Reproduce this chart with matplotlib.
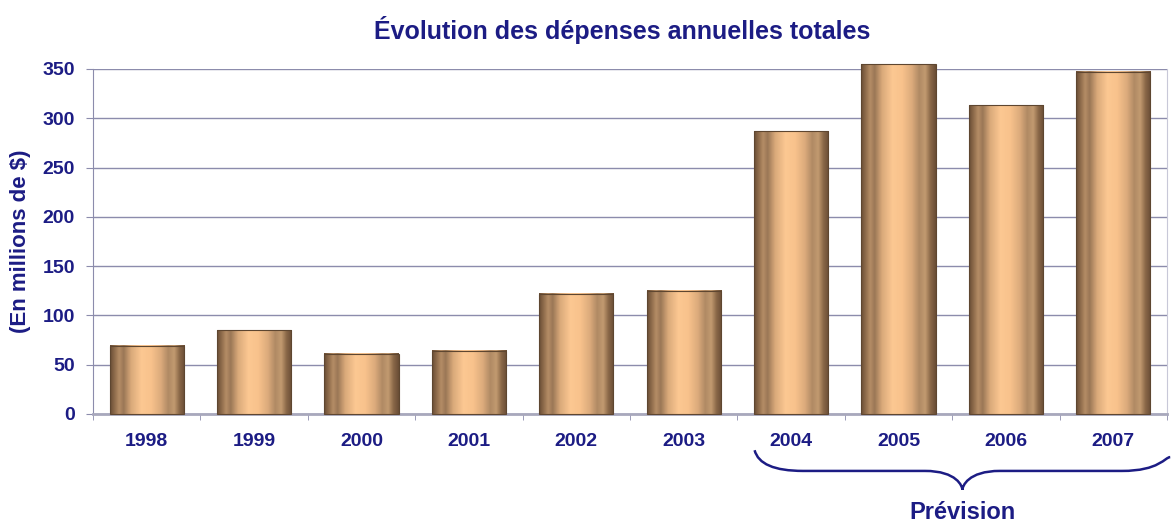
import numpy as np
import matplotlib
matplotlib.use('Agg')
import matplotlib.pyplot as plt
from matplotlib.colors import LinearSegmentedColormap
from matplotlib.path import Path
from matplotlib.patches import PathPatch
import matplotlib.transforms as mtransforms

plt.rcParams['font.family'] = ['Liberation Sans', 'DejaVu Sans']
plt.rcParams['font.weight'] = 'bold'

# data
years = ['1998', '1999', '2000', '2001', '2002', '2003', '2004', '2005', '2006', '2007']
depenses = [69, 85, 61, 64, 122, 125, 287, 355, 313, 347]
yticks = [0, 50, 100, 150, 200, 250, 300, 350]
forecast = ['2004', '2005', '2006', '2007']

navy = '#1c1c84'
grid = '#8c8cac'

# cylinder-like shading across each bar
cyl = LinearSegmentedColormap.from_list('cyl', [
    (0.00, '#6a4e36'), (0.06, '#8f6c4c'), (0.12, '#b58d66'), (0.18, '#9a7756'),
    (0.28, '#d9a97a'), (0.42, '#fcc892'), (0.55, '#f8c28c'), (0.68, '#dcab7c'),
    (0.78, '#b08a64'), (0.86, '#c29a70'), (0.93, '#8a6848'), (1.00, '#6a4e36')])
grad = np.linspace(0, 1, 200).reshape(1, -1)

fig = plt.figure(figsize=(11.72, 5.23), dpi=100)
ax = fig.add_axes([93/1172, 1 - 414/523, 1074/1172, 345/523])

x = np.arange(len(years))
width = 0.69
for xi, v in zip(x, depenses):
    im = ax.imshow(grad, cmap=cyl, extent=[xi - width/2, xi + width/2, 0, v],
                   aspect='auto', zorder=3, interpolation='bilinear')
    im.set_clip_on(False)
ax.bar(x, depenses, width=width, facecolor='none', edgecolor='#5e4630',
       linewidth=0.8, zorder=4, clip_on=False)

ax.set_xlim(-0.5, len(years) - 0.5)
ax.set_ylim(0, 350)
ax.set_yticks(yticks)
ax.set_yticklabels([str(t) for t in yticks])
ax.yaxis.grid(True, color=grid, linewidth=1.0, zorder=0)
ax.set_axisbelow(True)

ax.set_xticks(x)
ax.set_xticklabels(years)
ax.set_xticks(np.arange(-0.5, len(years)), minor=True)
ax.tick_params(axis='x', which='major', length=0, pad=14, labelsize=14, labelcolor=navy)
ax.tick_params(axis='x', which='minor', length=4, color=grid, direction='out')
ax.tick_params(axis='y', length=5, color=grid, pad=8, labelsize=14, labelcolor=navy)

for s in ['left', 'right']:
    ax.spines[s].set_color(grid)
    ax.spines[s].set_linewidth(0.8)
ax.spines['right'].set_color('#c8c8d8')
ax.spines['top'].set_visible(False)
ax.spines['bottom'].set_color('#a8a8bc')
ax.spines['bottom'].set_linewidth(2)

ax.set_ylabel('(En millions de $)', color=navy, fontsize=16, fontweight='bold',
              labelpad=8)
fig.text(622/1172, 1 - 30/523, 'Évolution des dépenses annuelles totales',
         ha='center', va='center', color=navy, fontsize=18, fontweight='bold')

# brace under the forecast years
trans = mtransforms.blended_transform_factory(ax.transData, ax.transAxes)
x0 = years.index(forecast[0]) - 0.34
x1 = years.index(forecast[-1]) + 0.53
xm = (x0 + x1) / 2
ytop, ymid, ytip = -0.105, -0.165, -0.22
verts = [(x0, ytop), (x0 + 0.05, ymid), (x0 + 0.45, ymid),
         (xm - 0.35, ymid),
         (xm - 0.05, ymid), (xm, ytip + 0.01), (xm, ytip),
         (xm, ytip + 0.01), (xm + 0.05, ymid), (xm + 0.35, ymid),
         (x1 - 0.45, ymid),
         (x1 - 0.1, ymid), (x1 - 0.05, ytop - 0.02), (x1, ytop - 0.02)]
codes = [Path.MOVETO, Path.CURVE3, Path.CURVE3,
         Path.LINETO,
         Path.CURVE4, Path.CURVE4, Path.CURVE4,
         Path.CURVE4, Path.CURVE4, Path.CURVE4,
         Path.LINETO,
         Path.CURVE4, Path.CURVE4, Path.CURVE4]
brace = PathPatch(Path(verts, codes), transform=trans, facecolor='none',
                  edgecolor=navy, linewidth=1.8, clip_on=False)
ax.add_patch(brace)
ax.text(xm, -0.285, 'Prévision', transform=trans, ha='center', va='center',
        color=navy, fontsize=17, fontweight='bold')

fig.savefig('out.png', dpi=100)
